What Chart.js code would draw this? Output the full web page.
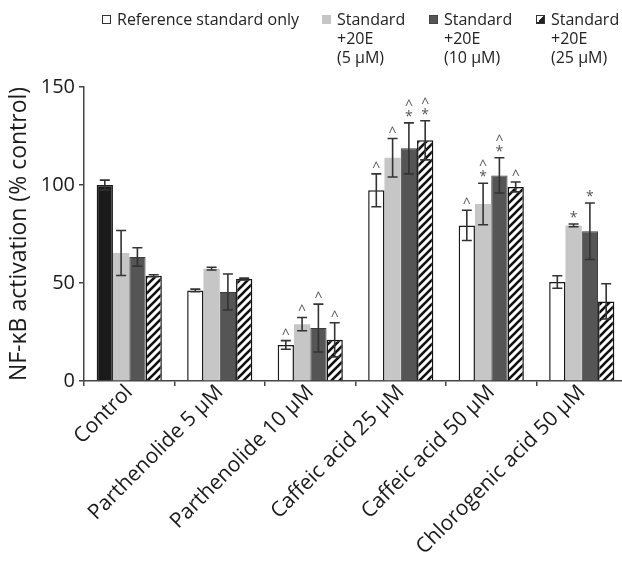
<!DOCTYPE html>
<html>
<head>
<meta charset="utf-8">
<script src="https://cdn.jsdelivr.net/npm/chart.js@4.4.0/dist/chart.umd.min.js"></script>
<style>
  html, body { margin: 0; padding: 0; background: #fff; overflow: hidden; }
  #wrap { position: relative; width: 622px; height: 561px; overflow: hidden; }
  #c { position: absolute; left: 0; top: 0; }
  .lg { position: absolute; top: 10px; font-family: "Open Sans", sans-serif; font-size: 16px; line-height: 19px; color: #222; white-space: nowrap; }
  .lg .box { position: absolute; left: -15px; top: 5px; width: 9px; height: 9px; box-sizing: border-box; border: 1.5px solid #333; }
</style>
</head>
<body>
<div id="wrap">
  <canvas id="c" width="627" height="561"></canvas>
  <div class="lg" style="left:117px"><span class="box" style="background:#fff"></span>Reference standard only</div>
  <div class="lg" style="left:337px"><span class="box" style="background:#c6c6c6;border-color:#c6c6c6"></span>Standard<br>+20E<br>(5 μM)</div>
  <div class="lg" style="left:444px"><span class="box" style="background:#555;border-color:#444"></span>Standard<br>+20E<br>(10 μM)</div>
  <div class="lg" style="left:551px"><span class="box" style="background:linear-gradient(to bottom right,#fff 50%,#222 50%)"></span>Standard<br>+20E<br>(25 μM)</div>
</div>
<script>
const categories = ['Control', 'Parthenolide 5 μM', 'Parthenolide 10 μM', 'Caffeic acid 25 μM', 'Caffeic acid 50 μM', 'Chlorogenic acid 50 μM'];

// mean values (% control) and error bar half-widths
const refOnly = [100, 46.2, 18.4, 97.3, 79.4, 50.5];
const refOnlyErr = [2.5, 0.7, 2.2, 8.4, 7.7, 3.2];
const plus5 = [65.3, 57.3, 29, 113.9, 90.3, 79.4];
const plus5Err = [11.5, 0.7, 3.4, 9.8, 10.6, 0.7];
const plus10 = [63.3, 45.4, 27, 118.7, 104.9, 76.4];
const plus10Err = [4.7, 9.2, 12.2, 13, 9, 14.4];
const plus25 = [53.7, 52, 21, 122.8, 99, 40.6];
const plus25Err = [0.5, 0.5, 8.7, 10, 2.5, 9];

// significance marks above the error bars
const refOnlyMarks = ['', '', '^', '^', '^', ''];
const plus5Marks = ['', '', '^', '^', '*^', '*'];
const plus10Marks = ['', '', '^', '*^', '*^', '*'];
const plus25Marks = ['', '', '^', '*^', '^', ''];

const yTicks = [0, 50, 100, 150];

const FONT = '"Open Sans", sans-serif';

function hatch() {
  const p = document.createElement('canvas');
  p.width = 8; p.height = 8;
  const g = p.getContext('2d');
  g.fillStyle = '#fff';
  g.fillRect(0, 0, 8, 8);
  g.strokeStyle = '#111';
  g.lineWidth = 2.6;
  g.beginPath();
  g.moveTo(-2, 10); g.lineTo(10, -2);
  g.moveTo(-2, 2); g.lineTo(2, -2);
  g.moveTo(6, 10); g.lineTo(10, 6);
  g.stroke();
  return g.createPattern(p, 'repeat');
}

const errorBars = {
  id: 'errorBars',
  afterDatasetsDraw(chart) {
    const ctx = chart.ctx;
    const y = chart.scales.y;
    chart.data.datasets.forEach((ds, i) => {
      chart.getDatasetMeta(i).data.forEach((bar, j) => {
        const v = ds.data[j], e = ds.errors[j];
        const top = y.getPixelForValue(v + e);
        const bot = y.getPixelForValue(v - e);
        ctx.save();
        ctx.strokeStyle = '#333';
        ctx.lineWidth = 1.6;
        ctx.beginPath();
        ctx.moveTo(bar.x, top); ctx.lineTo(bar.x, bot);
        ctx.moveTo(bar.x - 5, top); ctx.lineTo(bar.x + 5, top);
        ctx.moveTo(bar.x - 5, bot); ctx.lineTo(bar.x + 5, bot);
        ctx.stroke();

        // '*' sits just over the cap, '^' stacks above it
        const m = ds.marks[j];
        ctx.fillStyle = '#555';
        ctx.textAlign = 'center';
        ctx.textBaseline = 'alphabetic';
        ctx.font = '14px ' + FONT;
        let cy = top - 10;
        for (const ch of m) {
          ctx.fillText(ch, bar.x, cy + 8);
          cy -= 11;
        }
        ctx.restore();
      });
    });
  }
};

new Chart(document.getElementById('c'), {
  type: 'bar',
  data: {
    labels: categories,
    datasets: [
      {
        label: 'Reference standard only',
        data: refOnly, errors: refOnlyErr, marks: refOnlyMarks,
        backgroundColor: ['#1a1a1a', '#fff', '#fff', '#fff', '#fff', '#fff'],
        borderColor: '#1a1a1a', borderWidth: 1.5
      },
      {
        label: 'Standard +20E (5 μM)',
        data: plus5, errors: plus5Err, marks: plus5Marks,
        backgroundColor: '#c6c6c6', borderWidth: 0
      },
      {
        label: 'Standard +20E (10 μM)',
        data: plus10, errors: plus10Err, marks: plus10Marks,
        backgroundColor: '#555', borderColor: '#3c3c3c', borderWidth: 1
      },
      {
        label: 'Standard +20E (25 μM)',
        data: plus25, errors: plus25Err, marks: plus25Marks,
        backgroundColor: hatch(), borderColor: '#111', borderWidth: 1.5
      }
    ]
  },
  options: {
    responsive: false,
    animation: false,
    events: [],
    layout: { padding: { top: 87, left: 0, right: 0, bottom: 0 } },
    datasets: { bar: { barPercentage: 1, categoryPercentage: 0.72 } },
    plugins: { legend: { display: false }, tooltip: { enabled: false } },
    scales: {
      x: {
        grid: { display: true, drawOnChartArea: false, offset: true, tickLength: 5, color: '#444', lineWidth: 1.5 },
        border: { color: '#444', width: 1.5 },
        ticks: { minRotation: 45, maxRotation: 45, labelOffset: 0, color: '#1a1a1a', padding: -6, font: { family: FONT, size: 21 } },
        afterFit(s) { s.height = 180; }
      },
      y: {
        min: 0, max: 150,
        afterBuildTicks(s) { s.ticks = yTicks.map(v => ({ value: v })); },
        grid: { display: true, drawOnChartArea: false, tickLength: 5, color: '#444', lineWidth: 1.5 },
        border: { color: '#444', width: 1.5 },
        ticks: { color: '#1a1a1a', padding: 4, font: { family: FONT, size: 20 } },
        title: { display: true, text: 'NF-κB activation (% control)', color: '#1a1a1a', padding: { top: 6, bottom: 0 }, font: { family: FONT, size: 23 } },
        afterFit(s) { s.width = 84; }
      }
    }
  },
  plugins: [errorBars]
});
</script>
</body>
</html>
